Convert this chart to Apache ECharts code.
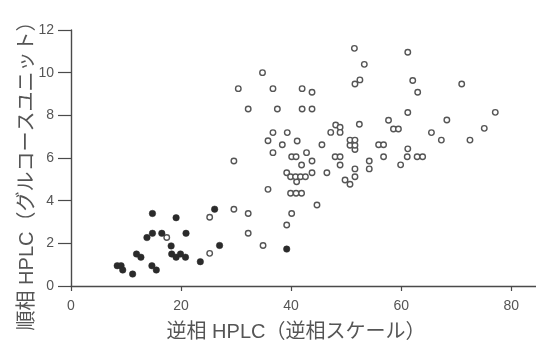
<!DOCTYPE html>
<html>
<head>
<meta charset="utf-8">
<script src="https://cdn.jsdelivr.net/npm/echarts@6/dist/echarts.min.js"></script>
<style>
  html, body { margin: 0; padding: 0; background: #fff; }
  #chart { width: 536px; height: 346px; }
</style>
</head>
<body>
<div id="chart"></div>
<script>
// Reversed-phase value (x) vs normal-phase glucose units (y)
const xTicks = [0, 20, 40, 60, 80];
const yTicks = [0, 2, 4, 6, 8, 10, 12];
const xTitle = '逆相 HPLC（逆相スケール）';
const yTitle = '順相 HPLC（グルコースユニット）';

// solid markers
const filledPoints = [
  [8.4, 0.95], [9.1, 0.95], [9.4, 0.75], [11.2, 0.56], [11.9, 1.5], [12.7, 1.35],
  [13.8, 2.27], [14.8, 3.4], [14.8, 2.47], [14.7, 0.95], [15.5, 0.75], [16.5, 2.47],
  [18.2, 1.88], [19.1, 3.2], [18.3, 1.5], [19.1, 1.35], [19.9, 1.5], [20.8, 1.35],
  [20.9, 2.47], [23.5, 1.14], [26.1, 3.6], [27.0, 1.9], [39.2, 1.73]
];

// hollow markers
const openPoints = [
  [17.4, 2.27], [25.2, 3.22], [25.2, 1.53], [29.6, 3.6], [29.6, 5.86],
  [32.2, 3.4], [32.2, 2.47], [34.9, 1.9], [40.1, 3.4], [39.2, 2.86], [44.7, 3.8],
  [39.9, 4.35], [40.9, 4.35], [41.9, 4.35], [35.8, 4.53],
  [41.0, 4.89], [49.8, 4.97], [50.7, 4.77], [51.6, 5.12], [51.6, 5.49],
  [39.2, 5.31], [39.9, 5.12], [40.8, 5.12], [41.7, 5.12], [42.6, 5.12], [43.8, 5.31], [46.5, 5.31],
  [41.9, 5.67], [43.8, 5.86], [48.9, 5.67], [54.2, 5.86], [54.2, 5.49], [59.9, 5.68],
  [40.1, 6.06], [40.9, 6.06], [48.0, 6.06], [48.9, 6.06], [56.8, 6.06], [61.1, 6.06], [62.9, 6.06], [63.9, 6.06],
  [36.7, 6.25], [42.8, 6.25], [51.6, 6.4], [61.2, 6.43],
  [38.4, 6.62], [45.6, 6.62], [50.7, 6.6], [51.6, 6.6], [50.7, 6.84], [51.6, 6.84],
  [55.9, 6.62], [56.8, 6.62], [67.3, 6.84], [72.5, 6.84], [35.8, 6.81], [41.1, 6.8],
  [36.7, 7.19], [39.3, 7.19], [47.2, 7.2], [48.1, 7.55], [48.9, 7.44], [48.9, 7.2], [52.4, 7.58], [65.5, 7.19],
  [58.6, 7.36], [59.5, 7.36], [75.1, 7.39], [57.7, 7.77], [68.3, 7.78],
  [61.2, 8.13], [77.1, 8.14],
  [32.2, 8.3], [37.5, 8.3], [42.0, 8.3], [43.8, 8.3],
  [30.4, 9.25], [36.7, 9.25], [42.0, 9.25], [43.8, 9.08], [63.0, 9.08],
  [51.6, 9.47], [52.5, 9.66], [62.1, 9.63], [71.0, 9.47],
  [34.8, 10.0], [53.3, 10.39], [61.2, 10.96], [51.5, 11.14]
];

const axisColor = '#4a4a4a';
const labelColor = '#555';
const numFont = '"Liberation Sans", Arial, sans-serif';
const titleFont = '"Liberation Sans", "Noto Sans CJK JP", sans-serif';

const chart = echarts.init(document.getElementById('chart'), null, { renderer: 'canvas' });

chart.setOption({
  animation: false,
  backgroundColor: '#fff',
  grid: { left: 71, right: 0, top: 30, bottom: 60 },
  xAxis: {
    type: 'value',
    min: 0,
    max: 84.5,
    splitLine: { show: false },
    axisLine: { lineStyle: { color: axisColor, width: 1.4 } },
    axisTick: { customValues: xTicks, length: 5, lineStyle: { color: axisColor, width: 1.2 } },
    axisLabel: {
      customValues: xTicks, margin: 13,
      color: labelColor, fontSize: 14, fontFamily: numFont
    }
  },
  yAxis: {
    type: 'value',
    min: 0,
    max: 12,
    interval: 2,
    splitLine: { show: false },
    axisLine: { show: true, lineStyle: { color: axisColor, width: 1.4 } },
    axisTick: { show: true, length: 13, lineStyle: { color: axisColor, width: 1.2 } },
    axisLabel: {
      margin: 17,
      color: labelColor, fontSize: 14, fontFamily: numFont
    }
  },
  graphic: [
    {
      type: 'text', x: 296, y: 332,
      style: {
        text: xTitle, fill: labelColor, fontSize: 20, fontFamily: titleFont,
        textAlign: 'center', textVerticalAlign: 'middle'
      }
    },
    {
      type: 'text', x: 27, y: 171, rotation: Math.PI / 2,
      style: {
        text: yTitle, fill: labelColor, fontSize: 20, fontFamily: titleFont,
        textAlign: 'center', textVerticalAlign: 'middle'
      }
    }
  ],
  series: [
    {
      type: 'scatter',
      data: openPoints,
      symbol: 'circle',
      symbolSize: 5.5,
      itemStyle: { color: '#fff', borderColor: '#555', borderWidth: 1.4, opacity: 1 }
    },
    {
      type: 'scatter',
      data: filledPoints,
      symbol: 'circle',
      symbolSize: 6.5,
      itemStyle: { color: '#2b2b2b', borderColor: '#2b2b2b', borderWidth: 0.5, opacity: 1 }
    }
  ]
});
</script>
</body>
</html>
